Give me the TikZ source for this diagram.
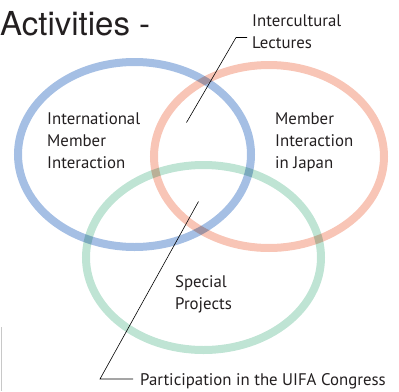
\documentclass[tikz,border=0pt]{standalone}
\usepackage{fontspec}
\setmainfont{PT Sans}
\newfontfamily\headfont{TeX Gyre Heros}
\usetikzlibrary{positioning}
\definecolor{ringblue}{HTML}{A5BFE4}
\definecolor{ringred}{HTML}{F8C5B6}
\definecolor{ringgreen}{HTML}{BFE4D4}
\definecolor{textgray}{HTML}{231F20}
\definecolor{edgegray}{HTML}{C8C8C8}

\begin{document}
\begin{tikzpicture}[x=1pt,y=-1pt,
    ring/.style={line width=8pt},
    lbl/.style={align=left, anchor=base west, inner sep=0pt, text=textgray,
        font=\fontsize{16.8}{22}\selectfont},
    leader/.style={line width=0.6pt, black}]
    \useasboundingbox (0,0) rectangle (399,391);

    % heading
    \node[anchor=base west, inner sep=0pt, text=textgray,
        font=\headfont\fontsize{33}{38}\selectfont] (head) at (0,35) {Activities -};
    \draw[edgegray, line width=1pt] (1,327) -- (1,391);

    % the three rings
    \begin{scope}[blend group=multiply]
        \draw[ring, ringblue] (134.5,154.5) ellipse [x radius=116.5, y radius=92.5];
        \draw[ring, ringred] (269,156.5) ellipse [x radius=115, y radius=91.5];
        \draw[ring, ringgreen] (203.5,257.5) ellipse [x radius=117.5, y radius=92.5];
    \end{scope}

    % labels (base = last line)
    \node[lbl] (intl) at (47,168) {International\\Member\\Interaction};
    \node[lbl] (japan) at (275,168) {Member\\Interaction\\in Japan};
    \node[lbl] (special) at (175,309) {Special\\Projects};
    \node[lbl] (lectures) at (252,48) {Intercultural\\Lectures};
    \node[lbl] (congress) at (140,385) {Participation in the UIFA Congress};

    % leaders
    \coordinate (lecpt) at (186.5,122.5);
    \coordinate (lecbend) at (236,37.5);
    \coordinate (conpt) at (198.5,201.5);
    \coordinate (conbend) at (100,379);
    \draw[leader] (lecpt) -- (lecbend) -- ([xshift=-5pt]lecbend -| lectures.west);
    \draw[leader] (conpt) -- (conbend) -- ([xshift=-7pt]conbend -| congress.west);
\end{tikzpicture}
\end{document}
